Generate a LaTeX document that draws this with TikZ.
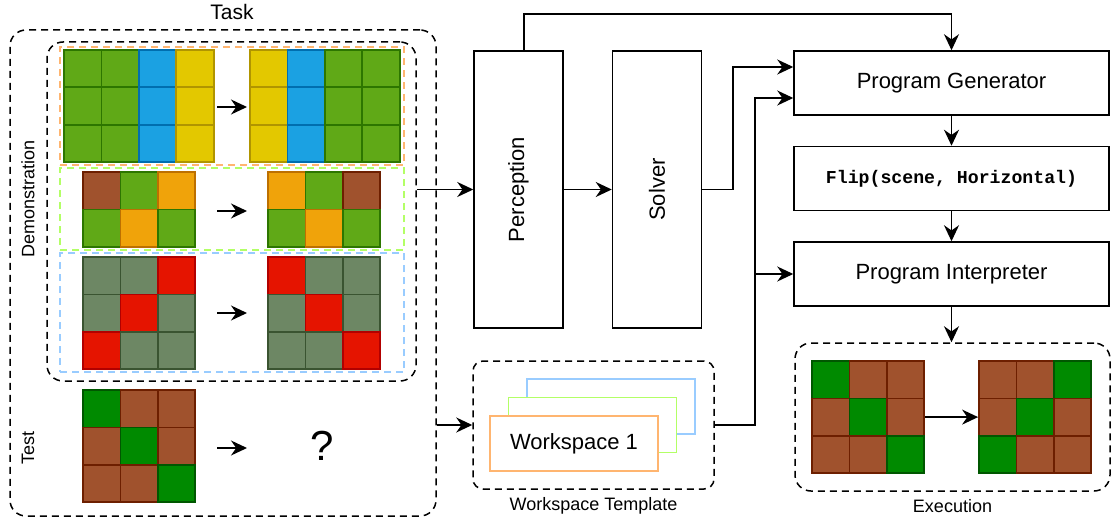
\documentclass[tikz,border=0pt]{standalone}
\usepackage{fontspec}
\setmainfont{Liberation Sans}
\setmonofont{Liberation Mono}
\usetikzlibrary{positioning, arrows.meta, calc}

\definecolor{grn}{HTML}{60A917}\definecolor{grnD}{HTML}{2D7600}
\definecolor{blu}{HTML}{1BA1E2}\definecolor{bluD}{HTML}{006EAF}
\definecolor{yel}{HTML}{E3C800}\definecolor{yelD}{HTML}{B09500}
\definecolor{brn}{HTML}{A0522D}\definecolor{brnD}{HTML}{6D1F00}
\definecolor{org}{HTML}{F0A30A}\definecolor{orgD}{HTML}{BD7000}
\definecolor{sla}{HTML}{6D8764}\definecolor{slaD}{HTML}{3A5431}
\definecolor{rd}{HTML}{E51400}\definecolor{rdD}{HTML}{B20000}
\definecolor{dgr}{HTML}{008A00}\definecolor{dgrD}{HTML}{005700}
\definecolor{orgL}{HTML}{FFB570}
\definecolor{grnL}{HTML}{B3FF66}
\definecolor{bluL}{HTML}{99CCFF}

\tikzset{block/.style={draw, line width=0.75pt, inner sep=0pt, font=\fontsize{11}{13}\selectfont}}
\tikzset{cell/.style={draw, line width=0.9pt, inner sep=0pt, minimum size=18.7pt}}
\tikzset{grp/.style={draw, line width=0.75pt, dash pattern=on 3.5pt off 2.5pt}}
\tikzset{page/.style={fill=white, line width=0.8pt, inner sep=0pt, minimum width=84pt, minimum height=27.5pt}}
\tikzset{lab/.style={font=\fontsize{9}{11}\selectfont}}
\tikzset{cg/.style={fill=grn, draw=grnD}, cb/.style={fill=blu, draw=bluD},
         cy/.style={fill=yel, draw=yelD}, cn/.style={fill=brn, draw=brnD},
         co/.style={fill=org, draw=orgD}, cs/.style={fill=sla, draw=slaD},
         cr/.style={fill=rd, draw=rdD},   cd/.style={fill=dgr, draw=dgrD}}
\newcommand{\cellgrid}[5]{%
    \foreach \clr [count=\idx from 0] in {#5} {
        \pgfmathtruncatemacro{\gr}{div(\idx,#4)}
        \pgfmathtruncatemacro{\gc}{mod(\idx,#4)}
        \node[cell, \clr] (#1-\gr-\gc) at ({#2+18.7+37.4*\gc}, {#3+18.7+37.4*\gr}) {};
    }}

\begin{document}
\begin{tikzpicture}[x=0.5pt, y=-0.5pt, line width=0.8pt,
        >={Stealth[length=8pt, width=7.5pt, inset=2.6pt]}]
        \tikzset{node distance=15pt and 24pt}
        \useasboundingbox (0,0) rectangle (1112,524);

        \node[grp, rounded corners=8pt, minimum width=213pt, minimum height=243pt] (task) at (223,273) {};
        \node[font=\fontsize{10.5}{12}\selectfont] (tasklbl) at (232,12) {Task};
        \node[grp, rounded corners=8pt, minimum width=184.5pt, minimum height=169.5pt] (demo) at (231.5,211.5) {};
        \node[grp, draw=orgL, minimum width=172pt, minimum height=59pt] (pair1) at (232,106) {};
        \node[grp, draw=grnL, minimum width=172pt, minimum height=41pt] (pair2) at (232,209) {};
        \node[grp, draw=bluL, minimum width=172pt, minimum height=59.5pt] (pair3) at (232,312.5) {};

        \node[lab, rotate=90] (demolbl) at (28,199) {Demonstration};
        \node[lab, rotate=90] (testlbl) at (28,448) {Test};

        \cellgrid{d1a}{64}{50}{4}{cg,cg,cb,cy,cg,cg,cb,cy,cg,cg,cb,cy}
        \cellgrid{d1b}{250}{50}{4}{cy,cb,cg,cg,cy,cb,cg,cg,cy,cb,cg,cg}
        \cellgrid{d2a}{83}{172}{3}{cn,cg,co,cg,co,cg}
        \cellgrid{d2b}{268}{172}{3}{co,cg,cn,cg,co,cg}
        \cellgrid{d3a}{83}{257}{3}{cs,cs,cr,cs,cr,cs,cr,cs,cs}
        \cellgrid{d3b}{268}{257}{3}{cr,cs,cs,cs,cr,cs,cs,cs,cr}
        \cellgrid{tst}{83}{390}{3}{cd,cn,cn,cn,cd,cn,cn,cn,cd}

        \foreach \yy [count=\n] in {107,211,313,448} {
            \coordinate (in\n) at (217,\yy);
            \coordinate (out\n) at (247,\yy);
            \draw[->] (in\n) -- (out\n);
        }
        \node[font=\fontsize{21}{24}\selectfont] (qmark) at (322,446) {?};

        \node[block, minimum width=44.5pt, minimum height=138.5pt] (perc) at (518.5,189.5) {\rotatebox{90}{Perception}};
        \node[block, minimum width=44.5pt, minimum height=138.5pt, right=of perc] (solver) {\rotatebox{90}{Solver}};

        \node[block, minimum width=157.5pt, minimum height=32pt] (pg) at (951.5,83) {Program Generator};
        \node[block, minimum width=157.5pt, minimum height=32pt, below=of pg,
              font=\ttfamily\bfseries\fontsize{9.1}{11}\selectfont] (flip) {Flip(scene, Horizontal)};
        \node[block, minimum width=157.5pt, minimum height=32pt, below=of flip] (pi) {Program Interpreter};

        \node[grp, rounded corners=5pt, minimum width=120.5pt, minimum height=64pt] (ws) at (593.5,425) {};
        \node[lab, below=0pt of ws] (wslbl) {Workspace Template};
        \node[page, draw=bluL] (ws3) at (611,406.5) {};
        \node[page, draw=grnL] (ws2) at (592.5,425) {};
        \node[page, draw=orgL, font=\fontsize{11}{13}\selectfont] (ws1) at (574,443.5) {Workspace 1};

        \node[grp, rounded corners=8pt, minimum width=157.5pt, minimum height=74pt] (exec) at (952.5,417) {};
        \node[lab, below=0pt of exec] (execlbl) {Execution};
        \cellgrid{ex1}{812}{361}{3}{cd,cn,cn,cn,cd,cn,cn,cn,cd}
        \cellgrid{ex2}{979}{361}{3}{cn,cn,cd,cn,cd,cn,cd,cn,cn}

        \draw[->] (demo.east |- perc.west) -- (perc.west);
        \draw[->] (perc) -- (solver);
        \coordinate (top) at (524,14);
        \draw[->] (top |- perc.north) -- (top) -| (pg.north);
        \draw[->] (solver.east) -- ++(31,0) |- ([yshift=8pt]pg.west);
        \draw[->] (task.east |- ws.west) -- (ws.west);
        \draw[->] (ws.east) -- ++(40,0) coordinate (wsj) |- ([yshift=-7.5pt]pg.west);
        \draw[->] (wsj |- pi.west) -- (pi.west);
        \draw[->] (pg) -- (flip);
        \draw[->] (flip) -- (pi);
        \draw[->] (pi.south) -- (pi.south |- exec.north);
        \draw[->] (ex1-1-2.east) -- (ex2-1-0.west);

    \end{tikzpicture}
\end{document}
